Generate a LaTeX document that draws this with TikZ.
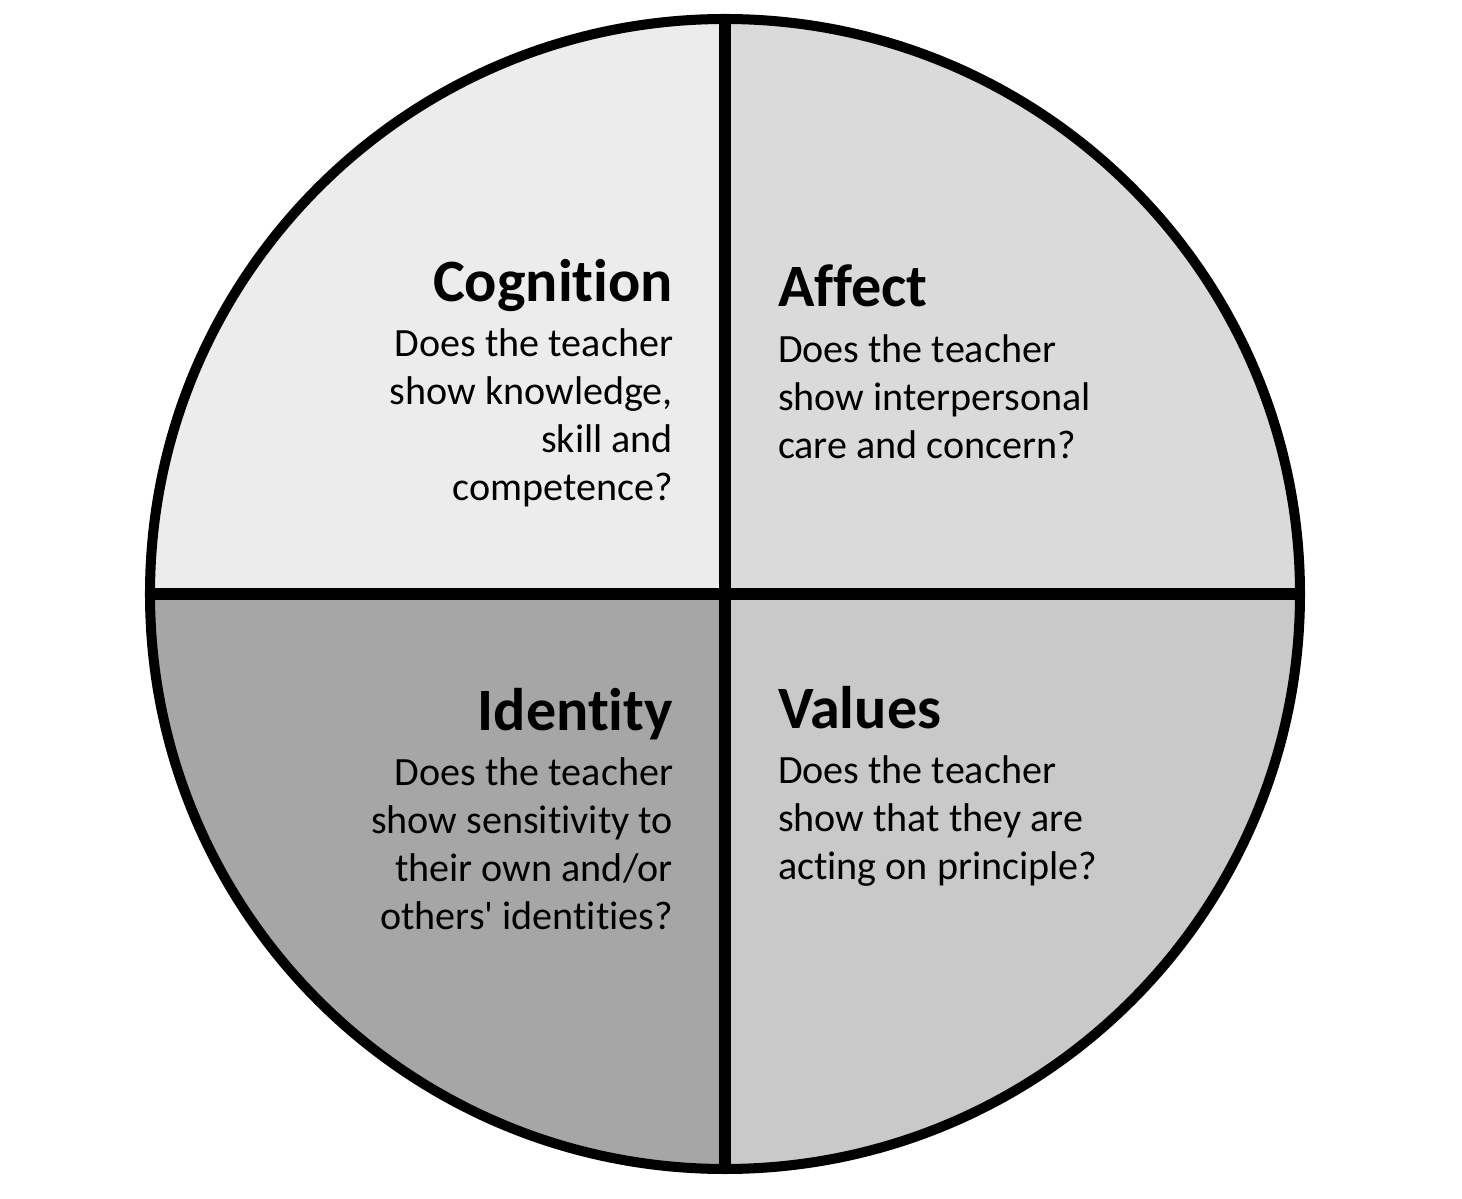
\documentclass[tikz,border=0pt]{standalone}
\usepackage{fontspec}
\setmainfont{Carlito}[Ligatures={TeX,NoCommon}]
\usepackage{tikz}
\usetikzlibrary{positioning}

\definecolor{cogfill}{HTML}{ECECEC}
\definecolor{afffill}{HTML}{DADADA}
\definecolor{idfill}{HTML}{A6A6A6}
\definecolor{valfill}{HTML}{C9C9C9}

\begin{document}
\begin{tikzpicture}[x=0.01cm,y=0.01cm,line width=2.85pt]
	\def \cx{725}
	\def \cy{605}
	\def \rad{575}
	\def \lefttext{678}
	\def \righttext{773}
	\tikzstyle{h-node}=[font=\fontsize{17.1pt}{20pt}\selectfont\bfseries,inner sep=0pt]
	\tikzstyle{q-node}=[font=\fontsize{11.4pt}{13.66pt}\selectfont,inner sep=0pt]
	\useasboundingbox (0,0) rectangle (1462,1199);
	\coordinate (c) at (\cx,\cy);
	\coordinate (top) at (\cx,\cy+\rad);
	\coordinate (bot) at (\cx,\cy-\rad);
	\coordinate (lft) at (\cx-\rad,\cy);
	\coordinate (rgt) at (\cx+\rad,\cy);

	% quadrants
	\begin{scope}
		\clip (c) circle [radius=\rad];
		\fill[cogfill] (c) rectangle (\cx-\rad,\cy+\rad);
		\fill[afffill] (c) rectangle (\cx+\rad,\cy+\rad);
		\fill[idfill] (c) rectangle (\cx-\rad,\cy-\rad);
		\fill[valfill] (c) rectangle (\cx+\rad,\cy-\rad);
	\end{scope}
	\draw (c) circle [radius=\rad];
	\draw[line width=3.4pt] (top) -- (bot);
	\draw[line width=3.4pt] (lft) -- (rgt);

	% headings
	\node[h-node,anchor=base east]	(cog)	at (\lefttext,897)	{Cognition};
	\node[h-node,anchor=base west]	(aff)	at (\righttext,892)	{Affect};
	\node[h-node,anchor=base east]	(idn)	at (\lefttext,468)	{Identity};
	\node[h-node,anchor=base west]	(val)	at (\righttext,470)	{Values};

	% questions
	\node[q-node,align=right,anchor=north east]	(cogq)	at (\lefttext,875)	{Does the teacher\\show knowledge,\\skill and\\competence?};
	\node[q-node,align=left,anchor=north west]	(affq)	at (\righttext,869)	{Does the teacher\\show interpersonal\\care and concern?};
	\node[q-node,align=right,anchor=north east]	(idnq)	at (\lefttext,446)	{Does the teacher\\show sensitivity to\\their own and/or\\others\textquotesingle{} identities?};
	\node[q-node,align=left,anchor=north west]	(valq)	at (\righttext,448)	{Does the teacher\\show that they are\\acting on principle?};
\end{tikzpicture}
\end{document}
